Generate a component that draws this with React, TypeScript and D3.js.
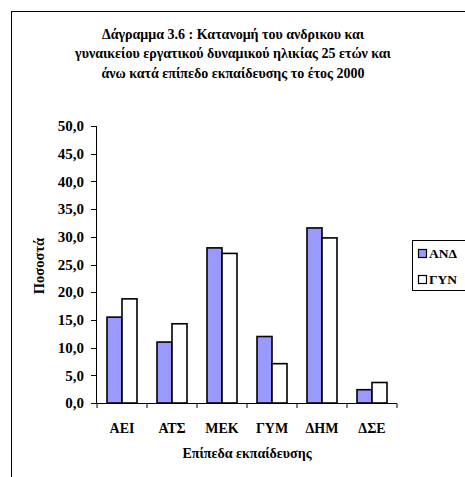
import React from "react";
import * as d3 from "d3";

const categories = ["ΑΕΙ", "ΑΤΣ", "ΜΕΚ", "ΓΥΜ", "ΔΗΜ", "ΔΣΕ"];
const seriesNames = ["ΑΝΔ", "ΓΥΝ"];
const andValues = [15.5, 11.0, 28.0, 12.0, 31.6, 2.4];
const gynValues = [18.8, 14.3, 27.0, 7.1, 29.8, 3.7];
const yTicks = [0, 5, 10, 15, 20, 25, 30, 35, 40, 45, 50];
const colors = ["#9999FF", "#FFFFFF"];
const titleLines = [
  "Δάγραμμα 3.6 : Κατανομή του ανδρικου και",
  "γυναικείου εργατικού δυναμικού ηλικίας 25 ετών και",
  "άνω κατά επίπεδο εκπαίδευσης το έτος 2000",
];

const W = 465;
const H = 477;
const txt: React.CSSProperties = { fontFamily: '"Liberation Serif", "Times New Roman", serif', fontWeight: 700 };

export default function App() {
  const x = d3.scaleBand<string>().domain(categories).range([97, 397]).paddingInner(0.4).paddingOuter(0.2);
  const x0 = d3.scaleBand<string>().domain(seriesNames).range([0, x.bandwidth()]);
  const y = d3.scaleLinear().domain([0, 50]).range([403, 126]);
  const series = [andValues, gynValues];
  const step = x.step();
  return (
    <svg width={W} height={H} style={{ position: "absolute", left: 0, top: 0 }}>
      <rect x={0} y={0} width={W} height={H} fill="#fff" />
      <rect x={11.5} y={11.5} width={600} height={600} fill="#fff" stroke="#000" strokeWidth={1} />
      {titleLines.map((t, i) => (
        <text key={i} x={233} y={38.5 + i * 19.5} textAnchor="middle" fontSize={14} style={txt}>{t}</text>
      ))}
      {/* y axis */}
      <line x1={96.5} x2={96.5} y1={y(50)} y2={y(0)} stroke="#000" />
      {yTicks.map((t) => (
        <g key={t}>
          <line x1={91} x2={96.5} y1={Math.round(y(t)) + 0.5} y2={Math.round(y(t)) + 0.5} stroke="#000" />
          <text x={84} y={y(t)} dy="0.35em" textAnchor="end" fontSize={15} style={txt}>{d3.format(".1f")(t).replace(".", ",")}</text>
        </g>
      ))}
      <text transform={`translate(44,266) rotate(-90)`} textAnchor="middle" fontSize={14.5} style={txt}>Ποσοστά</text>
      {/* bars */}
      {categories.map((c, i) =>
        series.map((vals, s) => (
          <rect key={c + s} x={(x(c) as number) + (x0(seriesNames[s]) as number)} y={y(vals[i])}
            width={x0.bandwidth()} height={y(0) - y(vals[i])} fill={colors[s]} stroke="#000" strokeWidth={1.6} />
        ))
      )}
      {/* x axis */}
      <line x1={96.5} x2={397} y1={403.5} y2={403.5} stroke="#000" />
      {d3.range(categories.length + 1).map((i) => (
        <line key={i} x1={97 + i * step} x2={97 + i * step} y1={403.5} y2={408} stroke="#000" />
      ))}
      {categories.map((c) => (
        <text key={c} x={(x(c) as number) + x.bandwidth() / 2} y={433} textAnchor="middle" fontSize={14} style={txt}>{c}</text>
      ))}
      <text x={247} y={458} textAnchor="middle" fontSize={14} style={txt}>Επίπεδα εκπαίδευσης</text>
      {/* legend */}
      <rect x={412.5} y={240.5} width={70} height={50} fill="#fff" stroke="#000" />
      {seriesNames.map((n, i) => (
        <g key={n}>
          <rect x={418.5} y={249.5 + i * 26} width={8} height={8} fill={colors[i]} stroke="#000" strokeWidth={1.2} />
          <text x={429} y={253.5 + i * 26} dy="0.35em" fontSize={13.5} style={txt}>{n}</text>
        </g>
      ))}
    </svg>
  );
}
